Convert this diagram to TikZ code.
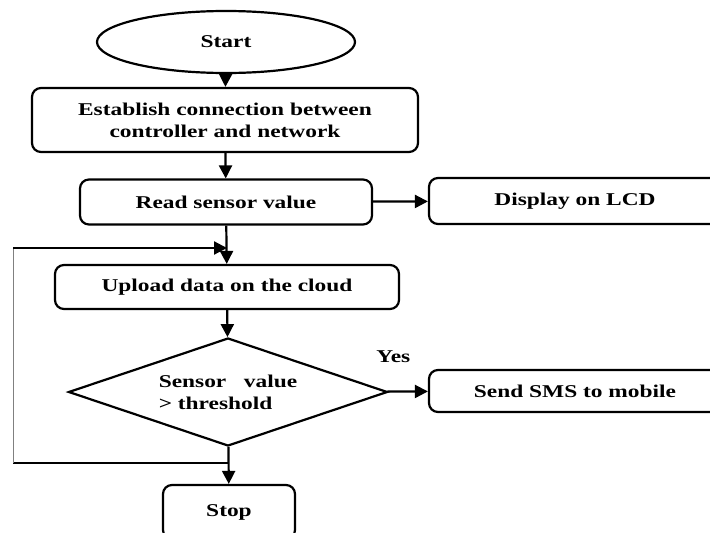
\documentclass[tikz,border=0pt]{standalone}
\usepackage{fontspec}
\setmainfont{Liberation Serif}[FakeStretch=1.3]
\usepackage{tikz}
\usetikzlibrary{arrows.meta,shapes.geometric}
\usetikzlibrary{calc}
\tikzset{
  stepbox/.style={
    draw, line width=2.2pt, rounded corners=9pt,
    minimum width=#1, inner sep=2pt, align=center
  },
  stepbox/.default=290pt,
  flow/.style={
    line width=2.2pt,
    -{Triangle[length=13pt,width=13pt]}
  }
}

\begin{document}
\begin{tikzpicture}[x=1pt, y=-1pt, font=\fontsize{18}{22}\selectfont\bfseries]
    \useasboundingbox (0,0) rectangle (710,533);
        %\draw[red, dashed] (current bounding box.south west) rectangle (current bounding box.north east);
  % Main column
  \node[draw, ellipse, line width=2.2pt, minimum width=258pt, minimum height=62pt]
    (start) at (226,42) {Start};
  \node[stepbox=386pt, minimum height=64pt] (connect) at (225,120)
    {Establish connection between\\controller and network};
  \node[stepbox=292pt, minimum height=45pt] (read) at (226,202) {Read sensor value};
  \node[stepbox=344pt, minimum height=44pt] (upload) at (227,287) {Upload data on the cloud};
  \node[draw, diamond, shape aspect=2.95, line width=2.2pt, minimum width=319pt,
    minimum height=108pt, inner sep=0pt, align=left] (check) at (228,392)
    {Sensor\ \ \ value\\> threshold};
  \node[stepbox=132pt, minimum height=54pt] (stop) at (229,512) {Stop};

  % Side outputs
  \node[stepbox=292pt, minimum height=46pt] (lcd) at (575,201) {Display on LCD};
  \node[stepbox=292pt, minimum height=42pt] (sms) at (575,391) {Send SMS to mobile};

  % Connectors
  \draw[flow] (start) -- (connect);
  \draw[flow] (connect) -- (read);
  \draw[flow] (read) -- (upload);
  \draw[flow] (upload) -- (check);
  \draw[flow] (check) -- (stop);
  \draw[flow] (read) -- (lcd);
  \draw[flow] (check) -- node[above=24pt, pos=0.15] {Yes} (sms);

  % Loop back from the decision
  \coordinate (loopbot) at (13,463);
  \coordinate (looptop) at (13,248);
  \draw[line width=2.2pt] (loopbot -| stop.north) -- (loopbot);
  \draw[line width=0.8pt, gray] (loopbot) -- (looptop);
  \draw[flow] (looptop) -- (looptop -| upload.north);

\end{tikzpicture}
\end{document}
